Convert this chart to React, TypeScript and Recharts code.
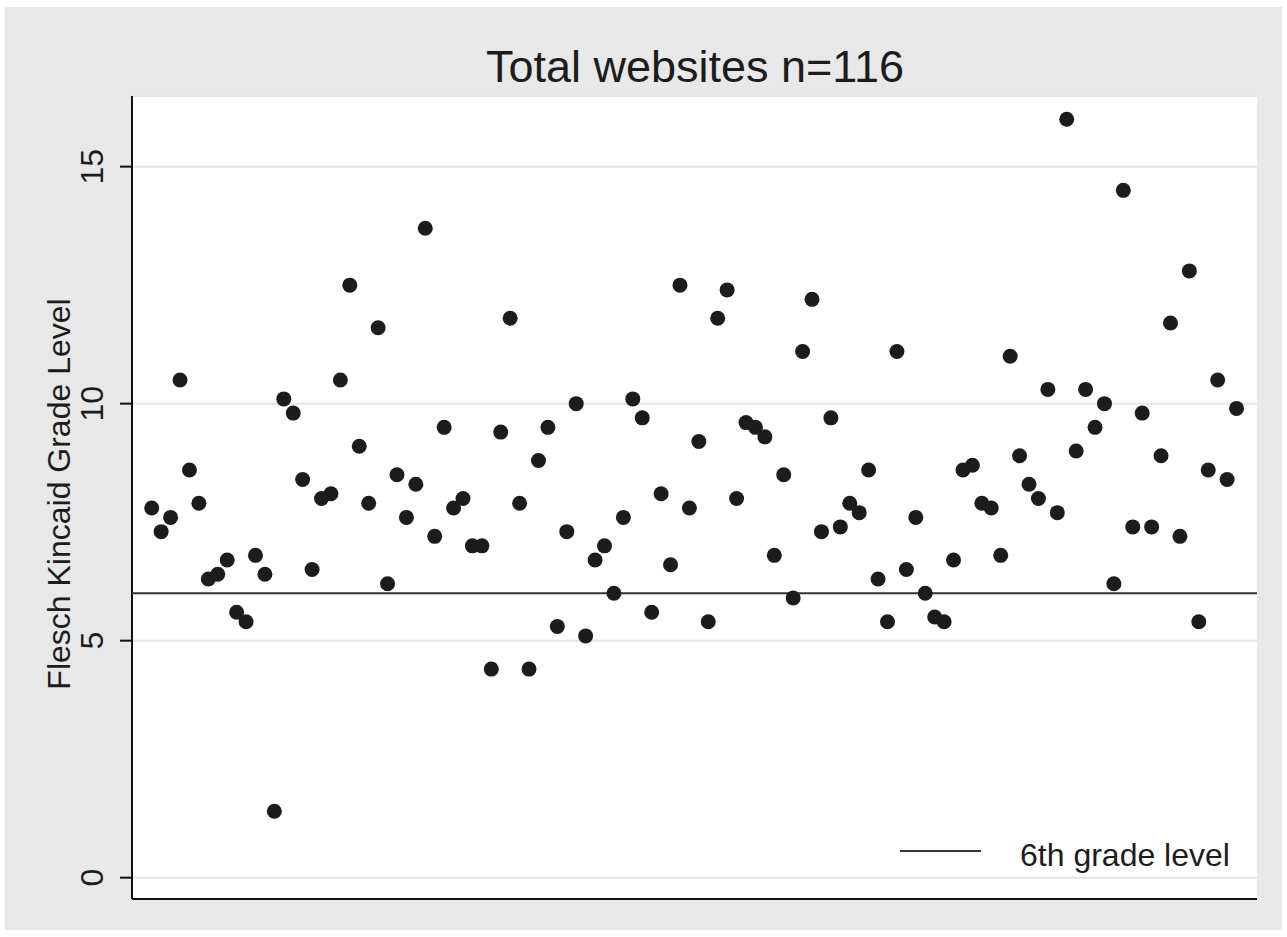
import { ScatterChart, Scatter, XAxis, YAxis, CartesianGrid } from 'recharts'

// ─── Data ─────────────────────────────────────────────────────────────────────

// Flesch Kincaid grade level per website, in plotted order (n = 116)
const gradeLevels = [
  7.8, 7.3, 7.6, 10.5, 8.6, 7.9, 6.3, 6.4, 6.7, 5.6,
  5.4, 6.8, 6.4, 1.4, 10.1, 9.8, 8.4, 6.5, 8.0, 8.1,
  10.5, 12.5, 9.1, 7.9, 11.6, 6.2, 8.5, 7.6, 8.3, 13.7,
  7.2, 9.5, 7.8, 8.0, 7.0, 7.0, 4.4, 9.4, 11.8, 7.9,
  4.4, 8.8, 9.5, 5.3, 7.3, 10.0, 5.1, 6.7, 7.0, 6.0,
  7.6, 10.1, 9.7, 5.6, 8.1, 6.6, 12.5, 7.8, 9.2, 5.4,
  11.8, 12.4, 8.0, 9.6, 9.5, 9.3, 6.8, 8.5, 5.9, 11.1,
  12.2, 7.3, 9.7, 7.4, 7.9, 7.7, 8.6, 6.3, 5.4, 11.1,
  6.5, 7.6, 6.0, 5.5, 5.4, 6.7, 8.6, 8.7, 7.9, 7.8,
  6.8, 11.0, 8.9, 8.3, 8.0, 10.3, 7.7, 16.0, 9.0, 10.3,
  9.5, 10.0, 6.2, 14.5, 7.4, 9.8, 7.4, 8.9, 11.7, 7.2,
  12.8, 5.4, 8.6, 10.5, 8.4, 9.9,
]

const xDomain = [-1.09, 118.17]
const yDomain = [-0.45, 16.49]
const yTicks = [0, 5, 10, 15]
const sixthGrade = 6

const titleText = 'Total websites n=116'
const yLabelText = 'Flesch Kincaid Grade Level'
const legendText = '6th grade level'

// ─── Layout ───────────────────────────────────────────────────────────────────

const W = 1277
const H = 923
const FONT = '"Liberation Sans", Arial, sans-serif'
const INK = '#1c1c1c'

const data = gradeLevels.map((grade, i) => ({ site: i + 1, grade }))
// horizontal 6th-grade marker, spanning the full x range
const sixthGradeLine = [
  { site: xDomain[0], grade: sixthGrade },
  { site: xDomain[1], grade: sixthGrade },
]

function Dot(props: any) {
  const { cx, cy } = props
  if (cx == null || cy == null) return null
  return <circle cx={cx} cy={cy} r={7.5} fill={INK} />
}

function NoDot() {
  return <g />
}

function RotatedTick(props: any) {
  const { x, y, payload } = props
  return (
    <text
      transform={`translate(${x - 15},${y}) rotate(-90)`}
      textAnchor="middle"
      fontSize={32}
      fontFamily={FONT}
      fill={INK}
    >
      {payload.value}
    </text>
  )
}

export default function App() {
  return (
    <div
      style={{
        position: 'absolute',
        left: 5,
        top: 7,
        width: W,
        height: H,
        background: '#e8e8e8',
      }}
    >
      <ScatterChart width={W} height={H} margin={{ top: 89, right: 25, bottom: 0, left: 0 }}>
        <CartesianGrid vertical={false} fill="#ffffff" stroke="#e4e4e4" strokeWidth={2} />
        <XAxis
          type="number"
          dataKey="site"
          domain={xDomain}
          allowDataOverflow
          tick={false}
          tickLine={false}
          height={31}
          axisLine={{ stroke: '#111', strokeWidth: 2 }}
        />
        <YAxis
          type="number"
          dataKey="grade"
          domain={yDomain}
          allowDataOverflow
          ticks={yTicks}
          width={127}
          tickSize={12}
          tickMargin={2}
          tick={<RotatedTick />}
          tickLine={{ stroke: '#111', strokeWidth: 2 }}
          axisLine={{ stroke: '#111', strokeWidth: 2 }}
        />
        <Scatter
          data={sixthGradeLine}
          line={{ stroke: '#333', strokeWidth: 2 }}
          shape={<NoDot />}
          isAnimationActive={false}
        />
        <Scatter data={data} shape={<Dot />} isAnimationActive={false} />
      </ScatterChart>

      {/* title, axis title and legend */}
      <svg
        width={W}
        height={H}
        style={{ position: 'absolute', left: 0, top: 0, pointerEvents: 'none' }}
      >
        <text x={690} y={75} textAnchor="middle" fontSize={45} fontFamily={FONT} fill={INK}>
          {titleText}
        </text>
        <text
          transform="translate(65,487) rotate(-90)"
          textAnchor="middle"
          fontSize={32}
          fontFamily={FONT}
          fill={INK}
        >
          {yLabelText}
        </text>
        <line x1={895} x2={976} y1={844} y2={844} stroke="#333" strokeWidth={2} />
        <text x={1015} y={859} fontSize={32} fontFamily={FONT} fill={INK}>
          {legendText}
        </text>
      </svg>
    </div>
  )
}
